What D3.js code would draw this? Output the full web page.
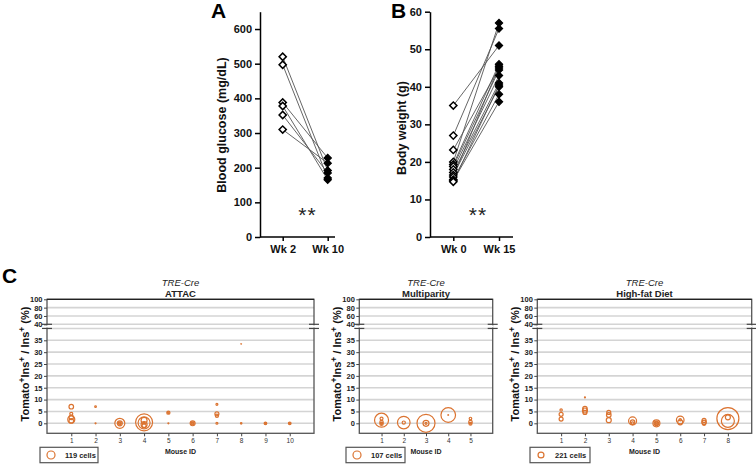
<!DOCTYPE html>
<html><head><meta charset="utf-8">
<script src="https://cdn.jsdelivr.net/npm/d3@7"></script>
<style>body{margin:0;background:#fff} svg{display:block;font-family:"Liberation Sans",Arial,sans-serif}</style>
</head><body><svg id="c" width="756" height="464"></svg>
<script>
// ---------- Panel A data ----------
const glucoseWeeks = ["Wk 2", "Wk 10"];
const glucoseTicks = [0, 100, 200, 300, 400, 500, 600];
const glucoseBefore = [520, 497, 388, 378, 352, 310];
const glucoseAfter  = [192, 170, 228, 165, 185, 213];
// ---------- Panel B data ----------
const weightWeeks = ["Wk 0", "Wk 15"];
const weightTicks = [0, 10, 20, 30, 40, 50, 60];
const weightBefore = [35, 27, 23.2, 20, 19.3, 18.8, 18, 17.2, 16.5, 16, 15.3, 15, 14.7];
const weightAfter  = [51, 55.5, 45, 57, 46, 44.5, 43, 41, 40, 45.5, 38, 36, 40.5];
// ---------- Panel C data ----------
const upperTicks = [40, 60, 80, 100];
const lowerTicks = [0, 5, 10, 15, 20, 25, 30, 35];
const attacMice = [1,2,3,4,5,6,7,8,9,10];
const attacMouse = [1,1,1,1,1, 2,2, 3,3,3,3, 4,4,4,4,4,4, 5,5,5, 6,6,6, 7,7,7,7, 8,8, 9,9, 10,10];
const attacPct   = [7,4,2.5,1.6,1.0, 7,0, 0,0,0,0, 0.4,0.2,1.2,-0.5,-1.0,0, 4.5,4.5,0, 0,0,0, 8,4,3.2,0, 33.5,0, 0,0, 0,0];
const attacCells = [39,17,36,90,39, 5,2, 186,46,17,5, 536,267,67,67,30,7, 19,5,2, 45,17,5, 7,30,19,7, 1,4, 13,4, 13,4];
const multiMice = [1,2,3,4,5];
const multiMouse = [1,1,1,1,1, 2,2, 3,3,3, 4,4, 5,5,5,5];
const multiPct   = [1.3,2.0,0.5,-0.2,0, 0.3,0.3, 0,0,0, 3.5,3.5, 2.0,0.5,-0.2,0];
const multiCells = [327,15,19,19,7, 265,17, 541,60,7, 356,1, 11,22,15,4];
const hfdMice = [1,2,3,4,5,6,7,8];
const hfdMouse = [1,1,1, 2,2,2,2, 3,3,3, 4,4,4, 5,5,5,5, 6,6,6, 7,7,7, 8,8,8];
const hfdPct   = [5.6,3.8,1.8, 10.9,6.2,5.4,4.6, 4.6,3.5,1.3, 1.0,0.5,0, 0,0,0,0.2, 1.4,0.4,1.5, 1.2,0.4,-0.3, 2.0,1.0,2.5];
const hfdCells = [36,100,100, 6,121,156,100, 100,132,156, 400,121,56, 306,132,56,25, 361,156,36, 100,132,56, 3025,1056,156];
const legendCells = [119, 107, 221];
const panelTitles = ["ATTAC", "Multiparity", "High-fat Diet"];

const svg = d3.select("#c");
const FONT = '"Liberation Sans", Arial, sans-serif';
const ORANGE = "#db7330";

function diamond(sel) {
  return sel.attr("d", d3.symbol(d3.symbolSquare, 26)());
}

function pairedPanel(o) {
  const g = svg.append("g");
  const y = d3.scaleLinear().domain([0, o.yMax]).range([237, 11.7]);
  const x = d3.scalePoint().domain(o.weeks).range(o.xRange);
  const ay = g.append("g").attr("transform", `translate(${o.axisX},0)`)
    .call(d3.axisLeft(y).tickValues(o.ticks).tickSize(5).tickPadding(3).tickSizeOuter(0));
  ay.select(".domain").attr("stroke", "#000").attr("stroke-width", 1.5);
  ay.selectAll(".tick line").attr("stroke", "#000").attr("stroke-width", 1.5);
  ay.selectAll("text").attr("font-size", 11).attr("font-weight", "bold").attr("font-family", FONT).attr("fill", "#111");
  const ax = g.append("g").attr("transform", `translate(0,237)`)
    .call(d3.axisBottom(x).tickSize(4).tickPadding(4));
  ax.select(".domain").remove();
  ax.append("line").attr("x1", o.axisX).attr("x2", o.axisEnd).attr("stroke", "#000").attr("stroke-width", 1.5);
  ax.selectAll(".tick line").attr("stroke", "#000").attr("stroke-width", 1.5);
  ax.selectAll("text").attr("font-size", 11).attr("font-weight", "bold").attr("font-family", FONT).attr("fill", "#111");
  g.selectAll("line.pair").data(o.before).join("line").attr("class", "pair")
    .attr("x1", x(o.weeks[0])).attr("x2", x(o.weeks[1]))
    .attr("y1", d => y(d)).attr("y2", (d, i) => y(o.after[i]))
    .attr("stroke", "#555").attr("stroke-width", 0.9);
  g.selectAll("path.b").data(o.before).join("path").attr("class", "b").call(diamond)
    .attr("transform", d => `translate(${x(o.weeks[0])},${y(d)}) rotate(45)`)
    .attr("fill", "#fff").attr("stroke", "#000").attr("stroke-width", 1.5);
  g.selectAll("path.a").data(o.after).join("path").attr("class", "a").call(diamond)
    .attr("transform", d => `translate(${x(o.weeks[1])},${y(d)}) rotate(45)`)
    .attr("fill", "#000").attr("stroke", "#000").attr("stroke-width", 1.2);
  g.append("text").attr("transform", `translate(${o.labelX},${o.labelY}) rotate(-90)`)
    .attr("text-anchor", "middle").attr("font-size", 12.5).attr("font-weight", "bold").attr("fill", "#111").text(o.label);
  g.append("text").attr("x", o.letterX).attr("y", 18).attr("font-size", 21).attr("font-weight", "bold").text(o.letter);
  g.append("text").attr("x", o.starsX).attr("y", 222).attr("text-anchor", "middle")
    .attr("font-size", 21).attr("fill", "#222").attr("letter-spacing", 1).text("**");
}

pairedPanel({letter: "A", letterX: 211, weeks: glucoseWeeks, ticks: glucoseTicks, yMax: 650,
  before: glucoseBefore, after: glucoseAfter, axisX: 260, axisEnd: 335, xRange: [282.7, 327.7],
  label: "Blood glucose (mg/dL)", labelX: 226, labelY: 125, starsX: 307.5});
pairedPanel({letter: "B", letterX: 391, weeks: weightWeeks, ticks: weightTicks, yMax: 60,
  before: weightBefore, after: weightAfter, axisX: 430, axisEnd: 513, xRange: [453.3, 499],
  label: "Body weight (g)", labelX: 406, labelY: 128, starsX: 478});

svg.append("text").attr("x", 2).attr("y", 283).attr("font-size", 21).attr("font-weight", "bold").text("C");

function bubblePanel(o) {
  const g = svg.append("g");
  const yU = d3.scaleLinear().domain([40, 100]).range([324.3, 299.3]);
  const yL = d3.scaleLinear().domain([0, 35]).range([423.3, 340.3]);
  const yT = 299.3, yB = 433.3;
  const x = d3.scalePoint().domain(o.mice).range([o.x0, o.x1]).padding(1);
  const r = d3.scaleSqrt().domain([0, 100]).range([0, o.k * 10]);
  const yv = v => v >= 40 ? yU(v) : yL(v);
  g.selectAll("line.gu").data(upperTicks.filter(t => t < 100)).join("line")
    .attr("x1", o.x0).attr("x2", o.x1).attr("y1", d => yU(d)).attr("y2", d => yU(d))
    .attr("stroke", "#d4d4d4").attr("stroke-width", 1.6);
  g.selectAll("line.gl").data(lowerTicks.concat([40])).join("line")
    .attr("x1", o.x0).attr("x2", o.x1).attr("y1", d => yL(d)).attr("y2", d => yL(d))
    .attr("stroke", "#d4d4d4").attr("stroke-width", 1.6);
  g.append("rect").attr("x", o.x0).attr("y", yT).attr("width", o.x1 - o.x0).attr("height", yB - yT)
    .attr("fill", "none").attr("stroke", "#555").attr("stroke-width", 1.3);
  g.append("line").attr("x1", o.x0).attr("x2", o.x1).attr("y1", yT).attr("y2", yT).attr("stroke", "#222").attr("stroke-width", 1.3);
  [o.x0, o.x1].forEach(bx => {
    [yU(40), yL(40)].forEach(by => {
      g.append("line").attr("x1", bx - 5).attr("x2", bx + 5).attr("y1", by).attr("y2", by)
        .attr("stroke", "#444").attr("stroke-width", 1.2);
    });
    g.append("rect").attr("x", bx - 1).attr("y", yU(40) + 1).attr("width", 2).attr("height", yL(40) - yU(40) - 2).attr("fill", "#fff");
  });
  const styleAxis = (a) => {
    a.select(".domain").remove();
    a.selectAll(".tick line").attr("stroke", "#444");
    a.selectAll("text").attr("font-size", 7.5).attr("font-weight", "bold").attr("font-family", FONT).attr("fill", "#222");
  };
  g.append("g").attr("transform", `translate(${o.x0},0)`)
    .call(d3.axisLeft(yU).tickValues(upperTicks).tickSize(3).tickPadding(1.5)).call(styleAxis);
  g.append("g").attr("transform", `translate(${o.x0},0)`)
    .call(d3.axisLeft(yL).tickValues(lowerTicks).tickSize(3).tickPadding(1.5)).call(styleAxis);
  const ax = g.append("g").attr("transform", `translate(0,${yB})`)
    .call(d3.axisBottom(x).tickSize(3).tickPadding(2));
  ax.select(".domain").remove();
  ax.selectAll(".tick line").attr("stroke", "#444");
  ax.selectAll("text").attr("font-size", 6.5).attr("font-family", FONT).attr("fill", "#333");
  g.append("text").attr("x", (o.x0 + o.x1) / 2).attr("y", 453.5).attr("text-anchor", "middle")
    .attr("font-size", 7).attr("font-weight", "bold").attr("fill", "#222").text("Mouse ID");
  const data = o.mouse.map((m, i) => ({m, v: o.pct[i], c: o.cells[i]}));
  g.selectAll("circle.b").data(data).join("circle").attr("class", "b")
    .attr("cx", d => x(d.m)).attr("cy", d => yv(d.v)).attr("r", d => r(d.c))
    .attr("fill", "none").attr("stroke", ORANGE).attr("stroke-width", 1.2);
  const cx = (o.x0 + o.x1) / 2;
  g.append("text").attr("x", cx).attr("y", 286).attr("text-anchor", "middle").attr("font-size", 9.5)
    .attr("font-style", "italic").attr("fill", "#222").text("TRE-Cre");
  g.append("text").attr("x", cx).attr("y", 296.5).attr("text-anchor", "middle").attr("font-size", 9.5)
    .attr("font-weight", "bold").attr("fill", "#222").text(o.title);
  const yl = g.append("text").attr("transform", `translate(${o.x0 - 18},364) rotate(-90)`)
    .attr("text-anchor", "middle").attr("font-size", 11).attr("font-weight", "bold").attr("fill", "#111");
  yl.append("tspan").text("Tomato");
  yl.append("tspan").attr("dy", -4).attr("font-size", 8.5).text("+");
  yl.append("tspan").attr("dy", 4).text("Ins");
  yl.append("tspan").attr("dy", -4).attr("font-size", 8.5).text("+");
  yl.append("tspan").attr("dy", 4).text(" / Ins");
  yl.append("tspan").attr("dy", -4).attr("font-size", 8.5).text("+");
  yl.append("tspan").attr("dy", 4).text(" (%)");
  g.append("rect").attr("x", o.lx).attr("y", 447.3).attr("width", o.lw).attr("height", 15.4)
    .attr("fill", "#fff").attr("stroke", "#555").attr("stroke-width", 1.2);
  g.append("circle").attr("cx", o.lx + 11).attr("cy", 455).attr("r", r(o.legend))
    .attr("fill", "none").attr("stroke", ORANGE).attr("stroke-width", 1.2);
  g.append("text").attr("x", o.lx + 25).attr("y", 458).attr("font-size", 7.5).attr("font-weight", "bold")
    .attr("fill", "#222").text(o.legend + " cells");
}

bubblePanel({x0: 47, x1: 314, mice: attacMice, mouse: attacMouse, pct: attacPct, cells: attacCells,
  k: 0.367, legend: legendCells[0], title: panelTitles[0], lx: 40, lw: 58});
bubblePanel({x0: 359.3, x1: 492.7, mice: multiMice, mouse: multiMouse, pct: multiPct, cells: multiCells,
  k: 0.387, legend: legendCells[1], title: panelTitles[1], lx: 346, lw: 59});
bubblePanel({x0: 537.3, x1: 751.7, mice: hfdMice, mouse: hfdMouse, pct: hfdPct, cells: hfdCells,
  k: 0.2, legend: legendCells[2], title: panelTitles[2], lx: 530, lw: 60});
</script>
</body></html>
